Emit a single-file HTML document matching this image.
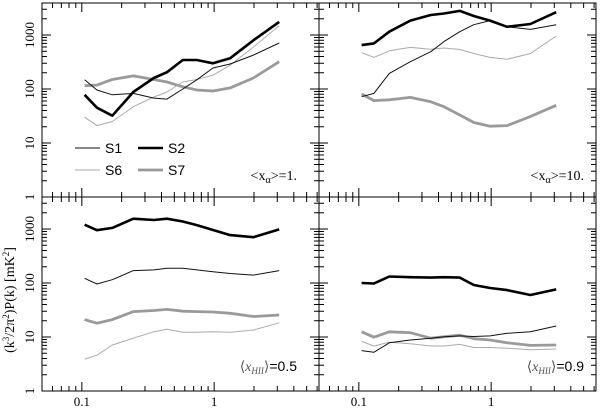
<!DOCTYPE html>
<html><head><meta charset="utf-8"><style>
body{margin:0;background:#fff;}
svg{display:block;font-family:"Liberation Serif",serif;}
</style></head><body>
<svg id="chart" width="600" height="408" viewBox="0 0 600 408" xmlns="http://www.w3.org/2000/svg"></svg>
<script>
const kGrid=[0.105,0.13,0.17,0.245,0.35,0.44,0.58,0.74,0.98,1.32,1.98,3.1];
const xTickLabels=["0.1","1"];
const yTickLabels=["1","10","100","1000"];
const seriesNames=["S1","S2","S6","S7"];
// panel A: <x_a>=1
const a_S1=[148,96,78,83,68,65,100,148,245,290,425,710];
const a_S2=[78,45,32,88,160,205,345,345,300,370,800,1750];
const a_S6=[30,21,25,47,71,88,135,150,180,275,600,1480];
const a_S7=[115,118,150,175,150,135,110,96,92,105,160,320];
// panel B: <x_a>=10
const b_S1=[72,83,195,320,490,755,1150,1550,1850,1420,1270,1550];
const b_S2=[650,700,1150,1850,2350,2500,2800,2250,1850,1420,1600,2650];
const b_S6=[470,385,510,590,545,575,540,455,385,355,455,960];
const b_S7=[81,61,63,70,58,47,33,24,20.5,21,31,50];
// panel C: <x_HII>=0.5
const c_S1=[122,96,115,170,175,187,187,175,162,150,140,170];
const c_S2=[1200,950,1050,1550,1470,1550,1380,1180,960,770,705,985];
const c_S6=[3.9,4.6,7.1,9.5,12.5,13.9,12.2,12.2,12.5,12.2,13.5,18.3];
const c_S7=[21,18,21,29.5,31,32.5,30,29.5,29,27.5,24,25.6];
// panel D: <x_HII>=0.9
const d_S1=[5.6,5.2,7.8,8.8,9.5,10.1,10.5,10.2,10.5,11.7,12.5,16];
const d_S2=[100,98,132,128,126,128,126,92,81,74,60,76];
const d_S6=[8.3,6.8,8.0,7.5,6.8,6.8,7.3,6.4,6.4,6.2,5.8,6.0];
const d_S7=[12.5,9.9,12.5,12,9.5,10.1,10.8,9.3,8.8,7.8,7.0,7.1];

const NS="http://www.w3.org/2000/svg";
const svg=document.getElementById('chart');
function mk(tag,attrs,parent){const e=document.createElementNS(NS,tag);for(const k in attrs)e.setAttribute(k,attrs[k]);(parent||svg).appendChild(e);return e;}
const XMIN=Math.log10(0.05),XMAX=Math.log10(6.2),YMAX=3.593;
const styles={S1:{c:"#111",w:1},S2:{c:"#000",w:2.6},S6:{c:"#aaa",w:1},S7:{c:"#9a9a9a",w:2.8}};
const panels=[
 {id:"a",x0:42,y0:3,data:[a_S1,a_S2,a_S6,a_S7]},
 {id:"b",x0:319,y0:3,data:[b_S1,b_S2,b_S6,b_S7]},
 {id:"c",x0:42,y0:197,data:[c_S1,c_S2,c_S6,c_S7]},
 {id:"d",x0:319,y0:197,data:[d_S1,d_S2,d_S6,d_S7]}];
const W=277,H=194;
panels.forEach((p,pi)=>{
 const g=mk('g',{});
 
 
 const xs=v=>p.x0+(Math.log10(v)-XMIN)/(XMAX-XMIN)*W;
 const ys=v=>p.y0+H-(Math.log10(v))/YMAX*H;
 const fr=mk('rect',{x:p.x0,y:p.y0,width:W,height:H,fill:"none",stroke:"#000","stroke-width":1},g);
 
 
 for(let d=-2;d<=0;d++)for(let m=1;m<=9;m++){const v=m*Math.pow(10,d);if(v<0.05||v>6.2)continue;
  const X=xs(v),L=m===1?9:5;
  mk('line',{x1:X,x2:X,y1:p.y0+H,y2:p.y0+H-L,stroke:"#000","stroke-width":1},g);
  mk('line',{x1:X,x2:X,y1:p.y0,y2:p.y0+L,stroke:"#000","stroke-width":1},g);}
 for(let d=0;d<=3;d++)for(let m=1;m<=9;m++){const v=m*Math.pow(10,d);if(Math.log10(v)>YMAX)continue;
  const Y=ys(v),L=m===1?9:5;
  mk('line',{x1:p.x0,x2:p.x0+L,y1:Y,y2:Y,stroke:"#000","stroke-width":1},g);
  mk('line',{x1:p.x0+W,x2:p.x0+W-L,y1:Y,y2:Y,stroke:"#000","stroke-width":1},g);}
 if(pi%2===0){yTickLabels.forEach(t=>{const Y=ys(parseFloat(t));
  const tx=mk('text',{x:34,y:Y,"font-size":13,"text-anchor":"middle",transform:`rotate(-90 34 ${Y})`},g);tx.textContent=t;
  
  });}
 if(pi>=2){xTickLabels.forEach(t=>{const X=xs(parseFloat(t));
  const tx=mk('text',{x:X,y:406,"font-size":13,"text-anchor":"middle"},g);tx.textContent=t;
  
  });}
 const order=[3,2,0,1];
 order.forEach(si=>{const name=seriesNames[si],st=styles[name];
  const pts=kGrid.map((k,i)=>xs(k).toFixed(1)+","+ys(p.data[si][i]).toFixed(1)).join(" ");
  const pl=mk('polyline',{points:pts,fill:"none",stroke:st.c,"stroke-width":st.w,"stroke-linejoin":"round"},g);
  
  });
});
</script>
<script>
(function(){
const svg=document.getElementById('chart');const NS="http://www.w3.org/2000/svg";
function mk(tag,attrs,parent){const e=document.createElementNS(NS,tag);for(const k in attrs)e.setAttribute(k,attrs[k]);(parent||svg).appendChild(e);return e;}
const items=[["S1",75,148,"#111",1],["S2",138,148,"#000",2.6],["S6",75,170,"#aaa",1],["S7",138,170,"#9a9a9a",2.8]];
items.forEach(it=>{
 const l=mk('line',{x1:it[1],x2:it[1]+25,y1:it[2],y2:it[2],stroke:it[3],"stroke-width":it[4]});
 
 
 const t=mk('text',{x:it[1]+30,y:it[2]+5,"font-size":14,"font-family":"Liberation Sans, sans-serif"});t.textContent=it[0];
 
 
});
const ann=[["<x",">=1.",297,180],["<x",">=10.",584,180]];
ann.forEach((a,i)=>{
 const t=mk('text',{x:a[2],y:a[3],"font-size":14,"text-anchor":"end"});
 t.innerHTML='&lt;x<tspan font-size="10" dy="3">α</tspan><tspan dy="-3">&gt;='+a[1].slice(2)+'</tspan>';
 
 
});
[["0.5",297],["0.9",584]].forEach((a,i)=>{
 const t=mk('text',{x:a[1],y:371,"font-size":14,"text-anchor":"end"});
 t.innerHTML='<tspan fill="#555">⟨</tspan><tspan font-style="italic" fill="#555">x</tspan><tspan font-size="9" dy="3" font-style="italic" fill="#555">HII</tspan><tspan dy="-3" fill="#555">⟩</tspan><tspan font-family="Liberation Sans, sans-serif">='+a[0]+'</tspan>';
 
 
});
const yt=mk('text',{x:14,y:300,"font-size":14,"text-anchor":"middle",transform:"rotate(-90 14 300)"});
yt.innerHTML='(k<tspan font-size="9" dy="-5">3</tspan><tspan dy="5">/2π</tspan><tspan font-size="9" dy="-5">2</tspan><tspan dy="5">)P(k)  [mK</tspan><tspan font-size="9" dy="-5">2</tspan><tspan dy="5">]</tspan>';


})();
</script>
</body></html>
